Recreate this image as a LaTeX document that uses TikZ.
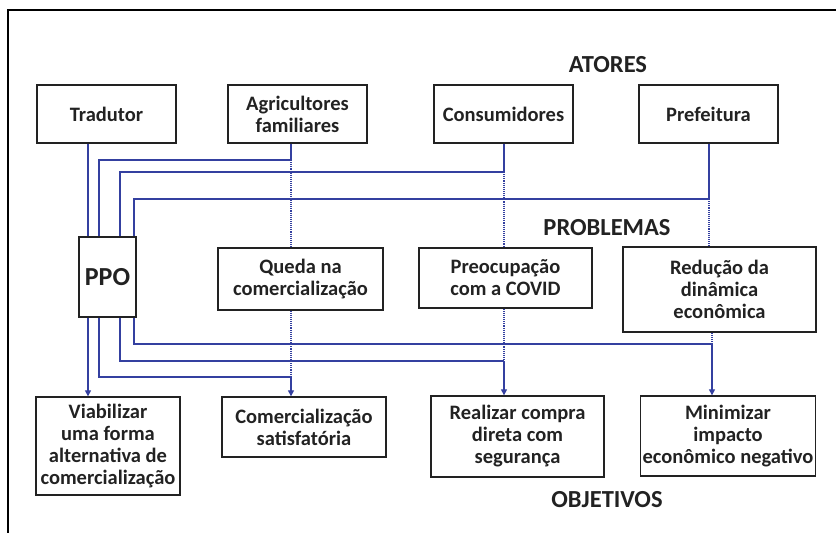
\documentclass[tikz,border=0pt]{standalone}
\usepackage{fontspec}
\setmainfont{Carlito}
\usetikzlibrary{arrows.meta}
\definecolor{ppoblue}{RGB}{52, 64, 160}
\definecolor{ppogray}{RGB}{34, 34, 34}

\begin{document}
\begin{tikzpicture}[x=1pt, y=-1pt,
    box/.style={draw=ppogray, line width=1.3pt, align=center, inner sep=2pt,
        text=ppogray, font=\fontsize{20.5}{22}\selectfont\bfseries},
    header/.style={text=ppogray, font=\fontsize{24.5}{28}\selectfont\bfseries},
    link/.style={draw=ppoblue, line width=1.1pt},
    hint/.style={draw=ppoblue, line width=1.1pt, densely dotted},
    tip/.style={-{Triangle[length=6pt, width=6pt]}}]
    \useasboundingbox (0,0) rectangle (836,533);

    % Frame (only top and left edges show)
    \draw[line width=2pt] (8,533) -- (8,10) -- (836,10);

    % Headers
    \node[header] (atores) at (608,65) {ATORES};
    \node[header] (problemas) at (607,228) {PROBLEMAS};
    \node[header] (objetivos) at (607,500) {OBJETIVOS};

    % Actors
    \node[box, minimum width=139pt, minimum height=58pt] (trad) at (106.5,114) {Tradutor};
    \node[box, minimum width=139pt, minimum height=58pt] (agri) at (297.5,114) {Agricultores\\familiares};
    \node[box, minimum width=139pt, minimum height=58pt] (cons) at (503.5,114) {Consumidores};
    \node[box, minimum width=139pt, minimum height=58pt] (pref) at (708.5,114) {Prefeitura};

    % PPO
    \node[box, minimum width=57pt, minimum height=80pt, font=\fontsize{26}{28}\selectfont\bfseries] (ppo) at (107.5,277) {PPO};

    % Problems
    \node[box, minimum width=165pt, minimum height=62pt] (queda) at (300.5,279) {Queda na\\comercialização};
    \node[box, minimum width=173pt, minimum height=60pt] (preoc) at (505.5,278) {Preocupação\\com a COVID};
    \node[box, minimum width=193pt, minimum height=85pt] (redu) at (719.5,289.5) {Redução da\\dinâmica\\econômica};

    % Objectives
    \node[box, minimum width=144pt, minimum height=98pt] (viab) at (108,446) {Viabilizar\\uma forma\\alternativa de\\comercialização};
    \node[box, minimum width=164pt, minimum height=60pt] (comer) at (304,427) {Comercialização\\satisfatória};
    \node[box, minimum width=173pt, minimum height=81pt] (realiz) at (517.5,436.5) {Realizar compra\\direta com\\segurança};
    \node[box, minimum width=174pt, minimum height=80pt] (minim) at (728,436) {Minimizar\\impacto\\econômico negativo};

    % Lanes through PPO
    \coordinate (lane1) at (88,0);
    \coordinate (lane2) at (99,0);
    \coordinate (lane3) at (120,0);
    \coordinate (lane4) at (134,0);

    % Junctions
    \coordinate (agriJ) at (291,160);
    \coordinate (agriK) at (291,377);
    \coordinate (consJ) at (504,172);
    \coordinate (consK) at (504,361);
    \coordinate (prefJ) at (709,199);
    \coordinate (prefK) at (712,344);

    % Tradutor
    \draw[link] (trad.south -| lane1) -- (ppo.north -| lane1);
    \draw[link, tip] (ppo.south -| lane1) -- (viab.north -| lane1);

    % Agricultores familiares
    \draw[link] (agri.south -| agriJ) -- (agriJ) -| (ppo.north -| lane2);
    \draw[hint] (agriJ) -- (queda.north -| agriJ);
    \draw[hint] (queda.south -| agriK) -- (agriK);
    \draw[link] (ppo.south -| lane2) |- (agriK);
    \draw[link, tip] (agriK) -- (comer.north -| agriK);

    % Consumidores
    \draw[link] (cons.south -| consJ) -- (consJ) -| (ppo.north -| lane3);
    \draw[hint] (consJ) -- (preoc.north -| consJ);
    \draw[hint] (preoc.south -| consK) -- (consK);
    \draw[link] (ppo.south -| lane3) |- (consK);
    \draw[link, tip] (consK) -- (realiz.north -| consK);

    % Prefeitura
    \draw[link] (pref.south -| prefJ) -- (prefJ) -| (ppo.north -| lane4);
    \draw[hint] (prefJ) -- (redu.north -| prefJ);
    \draw[hint] (redu.south -| prefK) -- (prefK);
    \draw[link] (ppo.south -| lane4) |- (prefK);
    \draw[link, tip] (prefK) -- (minim.north -| prefK);
\end{tikzpicture}
\end{document}
